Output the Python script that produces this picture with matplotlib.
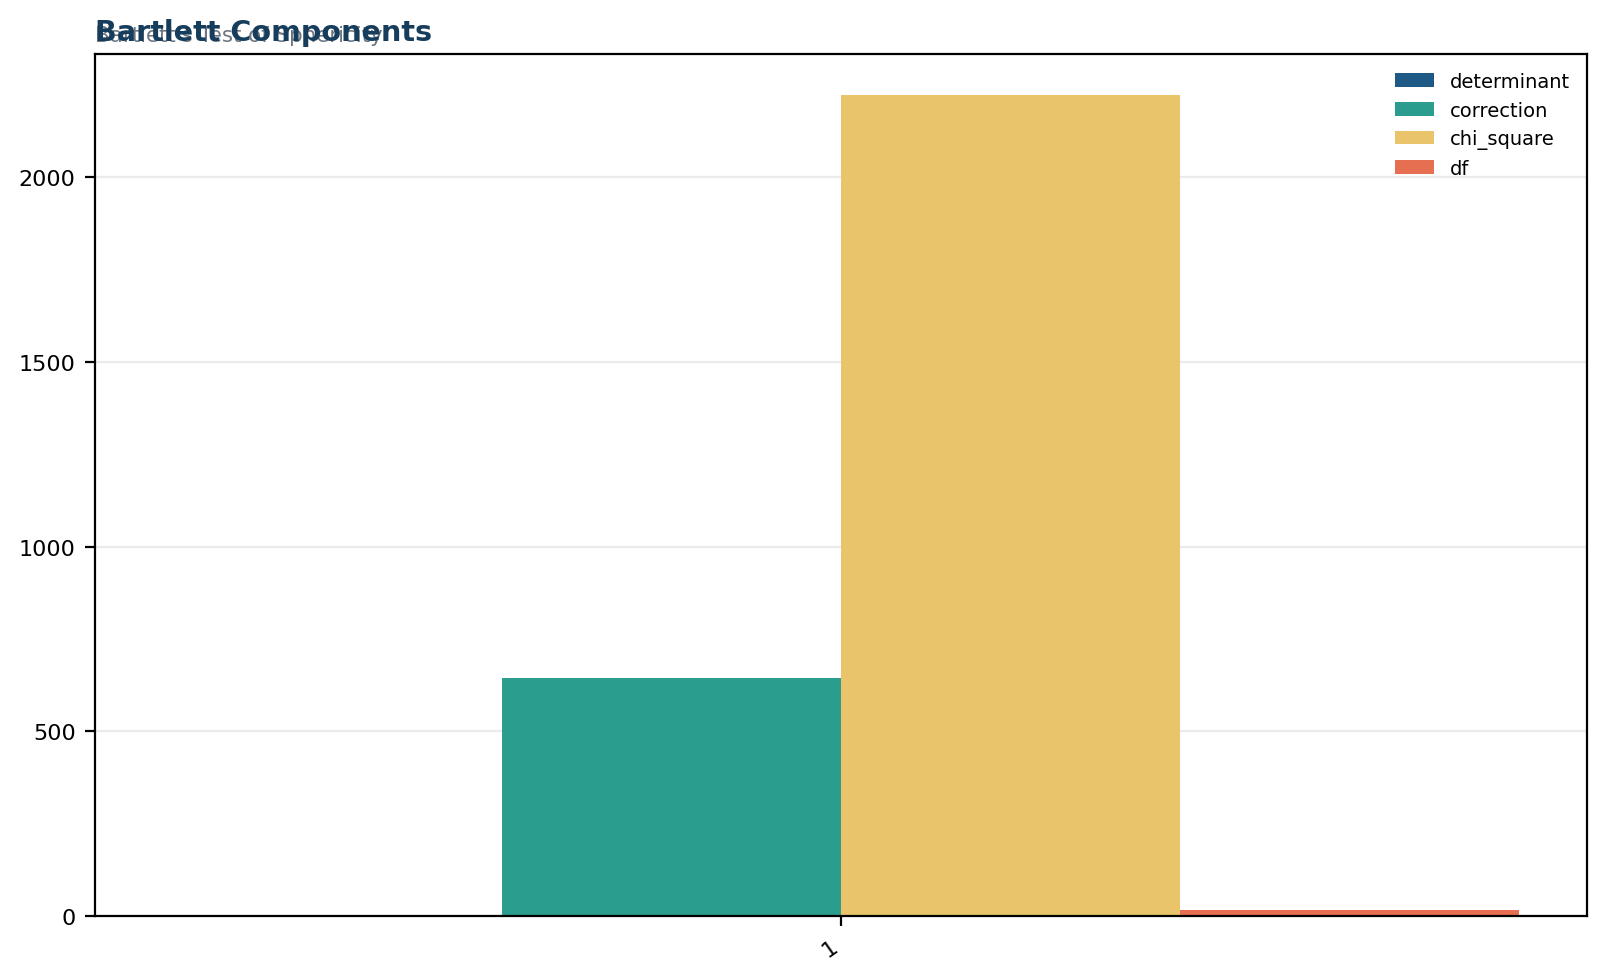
import matplotlib
matplotlib.use("Agg")
import matplotlib.pyplot as plt
import numpy as np

categories = ["1"]
series_names = ["determinant", "correction", "chi_square", "df"]
determinant = [0.0002]
correction = [645.0]
chi_square = [2222.0]
df = [15.0]
values = [determinant, correction, chi_square, df]
colors = ["#1f5a87", "#2a9d8f", "#e9c46a", "#e76f51"]

fig = plt.figure(figsize=(8, 4.89), dpi=200)
ax = fig.add_axes([0.0594, 0.0624, 0.9326, 0.881])

x = np.arange(len(categories))
w = 0.2
n = len(series_names)
for i, (name, vals, c) in enumerate(zip(series_names, values, colors)):
    ax.bar(x + (i - (n - 1) / 2) * w, vals, width=w, color=c, label=name, zorder=2)

ax.set_xticks(x)
ax.set_xticklabels(categories, rotation=35, ha="right", fontsize=8)
ax.tick_params(axis="y", labelsize=8)
ax.yaxis.grid(True, color="#ebebeb", linewidth=0.8, zorder=0)
ax.set_axisbelow(True)
for s in ax.spines.values():
    s.set_linewidth(0.8)
    s.set_color("black")

ax.legend(loc="upper right", frameon=False, fontsize=7)

fig.text(0.0594, 0.953, "Bartlett's Test of Sphericity", color="#555f6b", fontsize=7.7, ha="left", va="bottom", alpha=0.85)
fig.text(0.0594, 0.952, "Bartlett Components", color="#173d5c", fontsize=10.3, fontweight="bold", ha="left", va="bottom")

fig.savefig("out.png", dpi=200)
